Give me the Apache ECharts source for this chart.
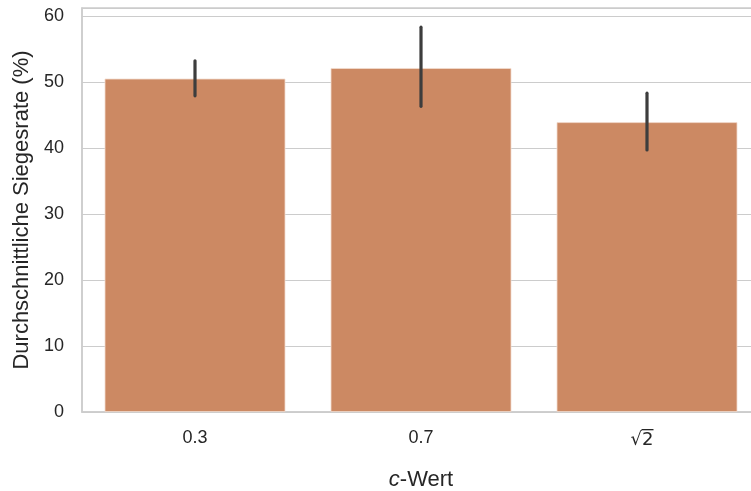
<!DOCTYPE html>
<html>
<head>
<meta charset="utf-8">
<script src="https://cdn.jsdelivr.net/npm/echarts@6/dist/echarts.min.js"></script>
<style>
html,body{margin:0;padding:0;background:#fff;overflow:hidden;}
#chart{width:751px;height:491px;}
</style>
</head>
<body>
<div id="chart"></div>
<script>
const categories = ['0.3', '0.7', '√2'];
const meanValues = [50.5, 52.1, 43.9];
const ciLow = [47.9, 46.3, 39.7];
const ciHigh = [53.2, 58.3, 48.3];
const yTicks = [0, 10, 20, 30, 40, 50, 60];

const chart = echarts.init(document.getElementById('chart'), null, {renderer: 'canvas'});
const textColor = '#262626';
const font = 'Liberation Sans, Arial, sans-serif';

chart.setOption({
  animation: false,
  backgroundColor: '#ffffff',
  grid: {left: 82, top: 8, width: 678, height: 404, containLabel: false, outerBoundsMode: 'none',
         show: true, borderColor: '#cccccc', borderWidth: 1.5},
  xAxis: {
    type: 'category',
    data: categories,
    name: '{i|c}-Wert',
    nameLocation: 'middle',
    nameGap: 57,
    nameTextStyle: {
      fontFamily: font, fontSize: 22, color: textColor,
      rich: {i: {fontStyle: 'italic', fontFamily: font, fontSize: 22, color: textColor}}
    },
    axisLine: {show: true, lineStyle: {color: '#cccccc', width: 1.5}},
    axisTick: {show: false},
    axisLabel: {
      fontFamily: font, fontSize: 18, color: textColor, margin: 17,
      formatter: function (v) {
        return v.charAt(0) === '√' ? '{sp| }{o| }{e| }\n{s|' + v + '}{e| }' : v;
      },
      rich: {
        sp: {width: 11, height: 1.3, lineHeight: 1.3, fontSize: 1},
        o: {width: 12, height: 1.3, lineHeight: 1.3, fontSize: 1, backgroundColor: textColor},
        e: {width: 10, height: 1.3, lineHeight: 1.3, fontSize: 1},
        s: {fontFamily: 'DejaVu Sans', fontSize: 18, lineHeight: 20, color: textColor}
      }
    },
    splitLine: {show: false}
  },
  yAxis: {
    type: 'value',
    min: 0,
    max: 61.2,
    interval: 10,
    name: 'Durchschnittliche Siegesrate (%)',
    nameLocation: 'middle',
    nameGap: 49,
    nameTextStyle: {fontFamily: font, fontSize: 22, color: textColor},
    axisLine: {show: true, lineStyle: {color: '#cccccc', width: 1.5}},
    axisTick: {show: false},
    axisLabel: {
      fontFamily: font, fontSize: 18, color: textColor, margin: 18,
      formatter: function (v) { return yTicks.indexOf(v) >= 0 ? String(v) : ''; }
    },
    splitLine: {show: true, lineStyle: {color: '#cccccc', width: 1.2}}
  },
  series: [
    {
      type: 'bar',
      data: meanValues,
      barWidth: '80%',
      itemStyle: {color: '#cc8963', borderColor: '#f3dccf', borderWidth: 0.8},
      z: 2
    },
    {
      type: 'custom',
      z: 5,
      data: categories.map((c, i) => [i, ciLow[i], ciHigh[i]]),
      renderItem: function (params, api) {
        const lo = api.coord([api.value(0), api.value(1)]);
        const hi = api.coord([api.value(0), api.value(2)]);
        return {
          type: 'line',
          shape: {x1: lo[0], y1: lo[1], x2: hi[0], y2: hi[1]},
          style: {stroke: '#3d3d3d', lineWidth: 3.2, lineCap: 'round'}
        };
      }
    }
  ]
});
</script>
</body>
</html>
